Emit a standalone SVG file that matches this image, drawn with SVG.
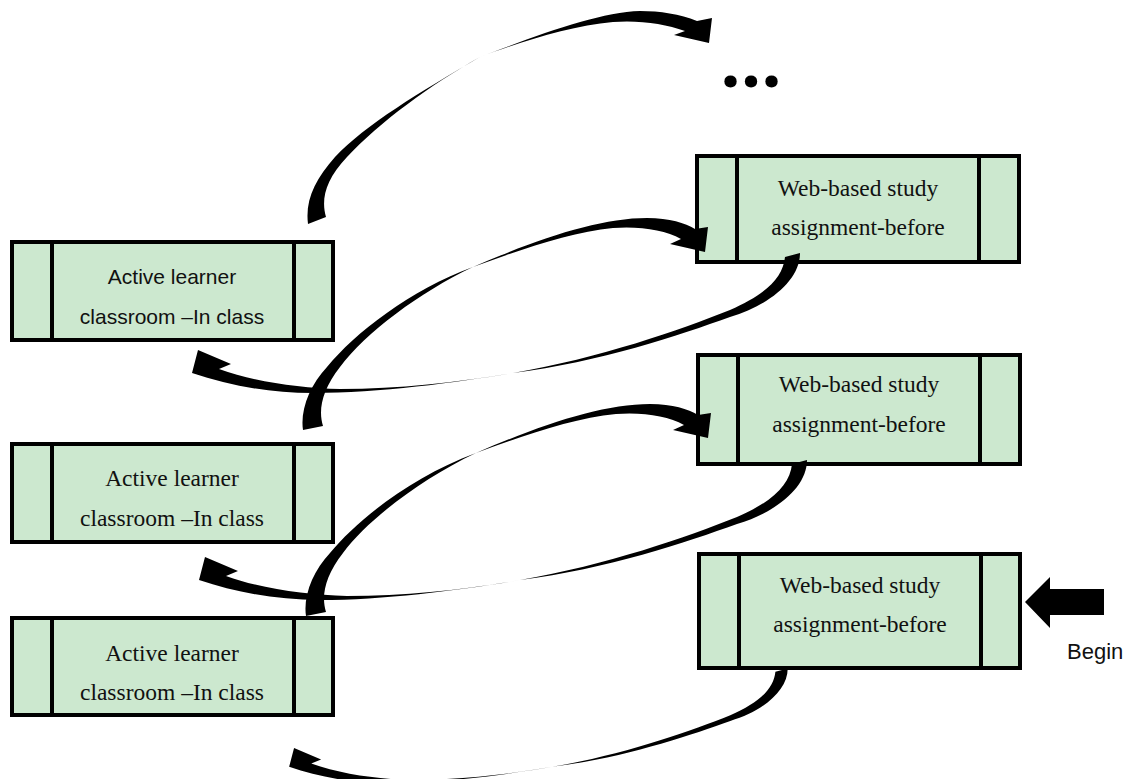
<svg xmlns="http://www.w3.org/2000/svg" width="1131" height="779" viewBox="0 0 1131 779">
<style>
.box{fill:#cce8cf;stroke:#000;stroke-width:4}
.div{stroke:#000;stroke-width:4}
.serif{font-family:"Liberation Serif","Times New Roman",serif;font-size:23.5px;fill:#111;text-anchor:middle}
.sans{font-family:"Liberation Sans",Arial,sans-serif;font-size:21px;fill:#111;text-anchor:middle}
.arrow{fill:#000;stroke:none}
</style>
<defs>
<path id="downLeft" d="M 785,257 L 800,253 C 800,280 770,305 730,317 C 680,335 600,362 513,373 C 460,382 380,393 313,393 C 268,393 228,385 192,373 L 198,350 L 231,364 L 219,369 C 255,382 300,388 340,389 C 400,389 460,382 513,373 C 600,358 680,330 730,310 C 765,295 783,278 785,257 Z"/>
<path id="upRight" d="M 303,430 C 300,410 310,385 327,367 C 355,333 410,290 473,267 C 540,238 600,218 647,218 C 670,218 685,223 695,229 L 708,227 L 705,252 L 670,244 L 681,239 C 665,230 640,226 613,228 C 570,232 520,250 473,267 C 420,292 365,333 340,367 C 322,390 318,410 323,426 Z"/>
</defs>
<rect width="1131" height="779" fill="#fff"/>

<g id="active1">
<rect class="box" x="12" y="242" width="321" height="98"/>
<line class="div" x1="52" y1="242" x2="52" y2="340"/>
<line class="div" x1="294" y1="242" x2="294" y2="340"/>
<text class="sans" x="172" y="284">Active learner</text>
<text class="sans" x="172" y="324">classroom –In class</text>
</g>
<g id="active2">
<rect class="box" x="12" y="444" width="321" height="98"/>
<line class="div" x1="52" y1="444" x2="52" y2="542"/>
<line class="div" x1="294" y1="444" x2="294" y2="542"/>
<text class="serif" x="172" y="486">Active learner</text>
<text class="serif" x="172" y="526">classroom –In class</text>
</g>
<g id="active3">
<rect class="box" x="12" y="618" width="321" height="97"/>
<line class="div" x1="52" y1="618" x2="52" y2="715"/>
<line class="div" x1="294" y1="618" x2="294" y2="715"/>
<text class="serif" x="172" y="661">Active learner</text>
<text class="serif" x="172" y="700">classroom –In class</text>
</g>
<g id="web1">
<rect class="box" x="697" y="156" width="322" height="106"/>
<line class="div" x1="737" y1="156" x2="737" y2="262"/>
<line class="div" x1="979" y1="156" x2="979" y2="262"/>
<text class="serif" x="858" y="196">Web-based study</text>
<text class="serif" x="858" y="235">assignment-before</text>
</g>
<g id="web2">
<rect class="box" x="698" y="355" width="322" height="109"/>
<line class="div" x1="738" y1="355" x2="738" y2="464"/>
<line class="div" x1="980" y1="355" x2="980" y2="464"/>
<text class="serif" x="859" y="392">Web-based study</text>
<text class="serif" x="859" y="432">assignment-before</text>
</g>
<g id="web3">
<rect class="box" x="699" y="554" width="321" height="114"/>
<line class="div" x1="739" y1="554" x2="739" y2="668"/>
<line class="div" x1="981" y1="554" x2="981" y2="668"/>
<text class="serif" x="860" y="593">Web-based study</text>
<text class="serif" x="860" y="632">assignment-before</text>
</g>
<g id="ellipsis">
<text x="751" y="87" style="font-family:'Open Sans','Liberation Sans',sans-serif;font-size:72px;font-weight:bold;text-anchor:middle;fill:#000">...</text>
</g>
<g id="begin">
<text x="1067" y="659" style="font-family:'Liberation Sans',Arial,sans-serif;font-size:22px;fill:#111">Begin</text>
</g>

<g id="connectors">
<path class="arrow" d="M 308,224 L 326,217 C 321,200 325,180 347,157 C 380,122 430,85 480,57 C 520,42 570,26 613,22 C 640,20 665,24 685,31 L 674,35 L 709,43 L 712,18 L 697,21 C 680,14 660,11 640,11 C 600,12 540,34 480,57 C 420,92 365,125 335,157 C 315,180 305,200 308,224 Z"/>
<use href="#upRight" class="arrow"/>
<use href="#downLeft" class="arrow"/>
<use href="#upRight" class="arrow" transform="translate(3,186)"/>
<use href="#downLeft" class="arrow" transform="translate(7,207)"/>
<use href="#downLeft" class="arrow" transform="matrix(0.82,0,0,0.82,131.7,461)"/>
<polygon class="arrow" points="1025,602 1050,577 1050,589 1104,589 1104,615 1050,615 1050,628"/>
</g>
</svg>
